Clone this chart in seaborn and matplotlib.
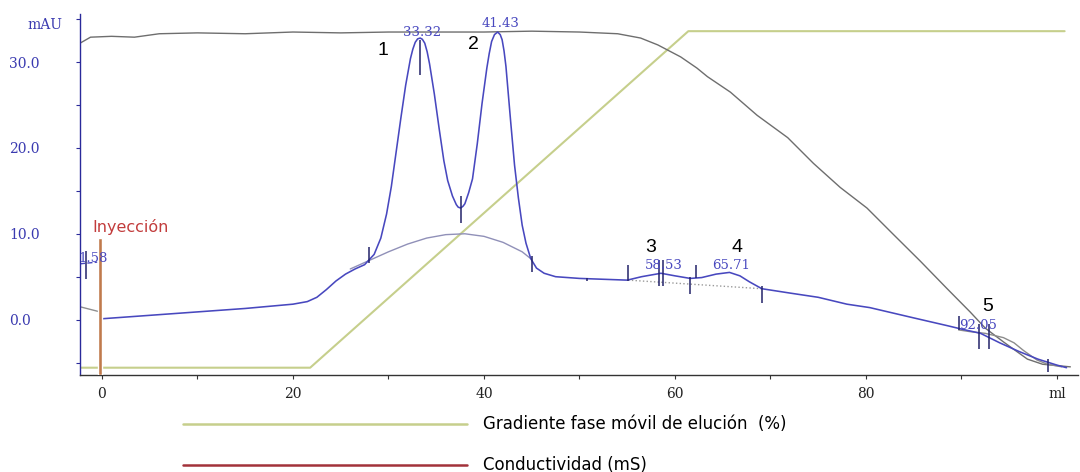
import matplotlib
matplotlib.use("Agg")
import matplotlib.pyplot as plt
from matplotlib.lines import Line2D
import numpy as np
import pandas as pd
import seaborn as sns

# ---- UV absorbance trace (mAU) versus elution volume (ml) ----
uv_ml = [0.0, 5, 10, 15, 20, 21.5, 22.5, 23.5, 24.5, 25.5, 26.5, 27.5, 28.5, 29.2, 29.8,
         30.3, 30.8, 31.3, 31.8, 32.3, 32.55, 32.8, 33.05, 33.32, 33.55, 33.8, 34.05, 34.3,
         34.8, 35.3, 35.8, 36.2, 36.7, 37.1, 37.3, 37.55, 37.8, 38.0, 38.4, 38.8, 39.3,
         39.8, 40.3, 40.55, 40.8, 41.1, 41.43, 41.7, 41.9, 42.1, 42.3, 42.8, 43.2, 43.6,
         44.0, 44.4, 44.9, 45.5, 46.3, 47.5, 50, 52.5, 55, 56.5, 58.53, 60, 61.6, 62.8,
         64.3, 65.71, 66.8, 67.8, 69.1, 72, 75, 78, 80.4, 85, 88.5, 90, 92, 94, 96, 98,
         100, 101]
uv_mau = [0.1, 0.5, 0.9, 1.3, 1.8, 2.1, 2.6, 3.5, 4.5, 5.3, 5.9, 6.4, 7.6, 9.5, 12.3,
          15.5, 19.5, 23.5, 27.3, 30.4, 31.5, 32.3, 32.7, 32.8, 32.65, 32.2, 31.2, 29.8,
          26.3, 22.3, 18.5, 16.2, 14.4, 13.4, 13.1, 13.0, 13.2, 13.5, 14.8, 16.4, 20.5,
          25.2, 29.3, 31.0, 32.4, 33.2, 33.5, 33.2, 32.6, 31.3, 29.5, 23.0, 18.0, 14.2,
          11.0, 8.9, 7.1, 6.0, 5.4, 5.0, 4.8, 4.7, 4.6, 5.0, 5.4, 5.1, 4.8, 4.9,
          5.3, 5.5, 5.1, 4.4, 3.6, 3.1, 2.6, 1.8, 1.4, 0.2, -0.7, -1.1, -1.6, -2.7, -3.7,
          -4.6, -5.3, -5.6]

# fitted envelope under peaks 1-2
hump_ml = [26.0, 28.0, 30.0, 32.0, 34.0, 36.0, 38.0, 40.0, 42.0, 44.0, 44.9]
hump_mau = [5.9, 6.9, 7.9, 8.8, 9.5, 9.9, 10.0, 9.7, 9.0, 7.9, 7.1]

# fitted envelope under peak 5
hump5_ml = [89.7, 90.9, 92.5, 94.4, 95.5, 96.5, 97.9, 99.0, 100.5]
hump5_mau = [-1.2, -1.4, -1.6, -2.1, -2.7, -3.6, -4.7, -5.2, -5.5]

# integration baseline under peaks 3-4
base34_ml = [55.1, 69.1]
base34_mau = [4.6, 3.6]

# short baseline next to the 1.58 peak
base0_ml = [-2.3, -0.5]
base0_mau = [6.5, 6.7]

# ---- conductivity trace (drawn on the mAU scale) ----
cond_ml = [-2.3, -1.2, 1, 3.4, 6, 10, 15, 20, 25, 30, 35, 40, 45, 50, 54, 56.4, 58.2,
           60.6, 62.3, 63.4, 65.8, 68.6, 71.8, 74.5, 77.3, 80.1, 82.8, 85.7, 88.5, 90.9,
           92.5, 94.4, 96.9, 98.5, 101.4]
cond_val = [32.2, 32.9, 33.0, 32.9, 33.3, 33.4, 33.3, 33.5, 33.4, 33.5, 33.5, 33.5, 33.6,
            33.5, 33.3, 32.8, 32.0, 30.6, 29.3, 28.3, 26.5, 23.8, 21.2, 18.2, 15.4, 13.0,
            10.0, 6.8, 3.6, 0.9, -1.0, -2.6, -4.6, -5.2, -5.5]
pre_ml = [-2.3, -0.2]
pre_val = [1.5, 0.9]

# ---- elution gradient (%) drawn on the mAU scale ----
grad_ml = [-2.3, 21.8, 61.4, 100.8]
grad_val = [-5.6, -5.6, 33.6, 33.6]

# ---- injection mark ----
inj_ml = -0.2
inj_top = 9.5

# ---- peak integration markers: x, upper end, lower end ----
mark_ml = [-1.7, 28.0, 33.32, 37.55, 45.0, 50.8, 55.1, 58.3, 58.7, 61.6, 62.2, 69.1,
           89.7, 91.8, 92.9, 99.1]
mark_top = [8.0, 8.5, 32.6, 14.4, 7.4, 4.9, 6.4, 7.0, 7.0, 5.0, 6.4, 3.9, 0.4, -0.5, -0.5, -4.6]
mark_bot = [4.7, 6.6, 28.5, 11.3, 5.6, 4.5, 4.5, 3.9, 3.9, 3.0, 4.8, 1.9, -1.2, -3.4, -3.4, -6.1]

# ---- peak retention labels ----
rt_text = ["1.58", "33.32", "41.43", "58.53", "65.71", "92.05"]
rt_ml = [-0.9, 33.5, 41.7, 58.8, 65.9, 91.7]
rt_y = [7.1, 33.5, 34.5, 6.3, 6.3, -0.7]

peak_num = ["1", "2", "3", "4", "5"]
peak_num_ml = [29.4, 38.9, 57.5, 66.5, 92.7]
peak_num_y = [31.4, 32.1, 8.4, 8.4, 1.5]

yticks = [0, 10, 20, 30]
ytick_labels = ["0.0", "10.0", "20.0", "30.0"]
xticks = [0, 20, 40, 60, 80, 100]
xtick_labels = ["0", "20", "40", "60", "80", "ml"]

legend_labels = ["Gradiente fase móvil de elución  (%)", "Conductividad (mS)"]

sns.set_theme(style="white")
plt.rcParams["font.family"] = ["DejaVu Sans"]

BLUE = "#4848bf"
GREEN = "#c6cf8c"
GREY = "#6e6e6e"
HUMP = "#9090b8"
MARK = "#23236a"

fig = plt.figure(figsize=(10.8, 4.72), dpi=100)
fig.patch.set_facecolor("white")
ax = fig.add_axes([80 / 1080, 1 - 375 / 472, (1078 - 80) / 1080, (375 - 14) / 472])

uv = pd.DataFrame({"ml": uv_ml, "mAU": uv_mau})
cond = pd.DataFrame({"ml": cond_ml, "val": cond_val})
grad = pd.DataFrame({"ml": grad_ml, "val": grad_val})

sns.lineplot(data=grad, x="ml", y="val", ax=ax, color=GREEN, lw=1.5, sort=False, estimator=None)
sns.lineplot(data=cond, x="ml", y="val", ax=ax, color=GREY, lw=1.0, sort=False, estimator=None)
sns.lineplot(x=pre_ml, y=pre_val, ax=ax, color="#909090", lw=1.0, sort=False, estimator=None)
sns.lineplot(x=hump_ml, y=hump_mau, ax=ax, color=HUMP, lw=1.0, sort=False, estimator=None)
sns.lineplot(x=hump5_ml, y=hump5_mau, ax=ax, color="#8c8c8c", lw=1.0, sort=False, estimator=None)
sns.lineplot(x=base34_ml, y=base34_mau, ax=ax, color="#9a9a9a", lw=1.0, ls=":", sort=False, estimator=None)
sns.lineplot(x=base0_ml, y=base0_mau, ax=ax, color=BLUE, lw=1.0, ls="--", sort=False, estimator=None)
sns.lineplot(data=uv, x="ml", y="mAU", ax=ax, color=BLUE, lw=1.15, sort=False, estimator=None)

ax.vlines(mark_ml, mark_bot, mark_top, color=MARK, lw=1.1)

ymin, ymax = -6.45, 35.6
ax.bar([inj_ml], [inj_top - ymin], bottom=ymin, width=0.45, color="#c07a4c", zorder=5)
ax.text(inj_ml - 0.8, inj_top + 0.4, "Inyección", color="#c23c3c", fontsize=11.5,
        ha="left", va="bottom", family=["DejaVu Sans"])

for t, x, y in zip(rt_text, rt_ml, rt_y):
    ax.text(x, y, t, color=BLUE, fontsize=9.5, ha="center", va="center",
            family=["DejaVu Serif"], zorder=6)
for t, x, y in zip(peak_num, peak_num_ml, peak_num_y):
    ax.text(x, y, t, color="black", fontsize=14, ha="center", va="center",
            family=["Liberation Sans"], zorder=6)

ax.set_xlim(-2.3, 102.2)
ax.set_ylim(ymin, ymax)
ax.set_xlabel("")
ax.set_ylabel("")

ax.set_yticks(yticks)
ax.set_yticks([-5, 5, 15, 25, 35], minor=True)
ax.set_yticklabels(ytick_labels, family="DejaVu Serif", fontsize=10, color="#3a3ab0", ha="left")
ax.set_xticks(xticks)
ax.set_xticks([10, 30, 50, 70, 90], minor=True)
ax.set_xticklabels(xtick_labels, family="DejaVu Serif", fontsize=10, color="#222222")
ax.tick_params(axis="y", which="both", direction="out", length=3, width=0.8, color="#2a2a9a",
               left=True, pad=48)
ax.tick_params(axis="x", which="both", direction="out", length=3, width=0.8, color="#333333",
               bottom=True, pad=6)

for s in ["top", "right"]:
    ax.spines[s].set_visible(False)
ax.spines["left"].set_color("#2a2a9a")
ax.spines["left"].set_linewidth(1.0)
ax.spines["bottom"].set_color("#333333")
ax.spines["bottom"].set_linewidth(1.0)

fig.text(27 / 1080, 1 - 25 / 472, "mAU", color="#3a3ab0", fontsize=10,
         family="DejaVu Serif", ha="left", va="center")

# legend rows below the plot
leg_colors = [GREEN, "#a2323a"]
leg_y = [1 - 424 / 472, 1 - 465 / 472]
for lab, col, yy in zip(legend_labels, leg_colors, leg_y):
    fig.add_artist(Line2D([183 / 1080, 467 / 1080], [yy, yy], color=col, lw=1.8,
                          transform=fig.transFigure))
    fig.text(483 / 1080, yy, lab, color="black", fontsize=12, family="DejaVu Sans",
             ha="left", va="center")

fig.savefig("out.png", dpi=100, facecolor="white")
